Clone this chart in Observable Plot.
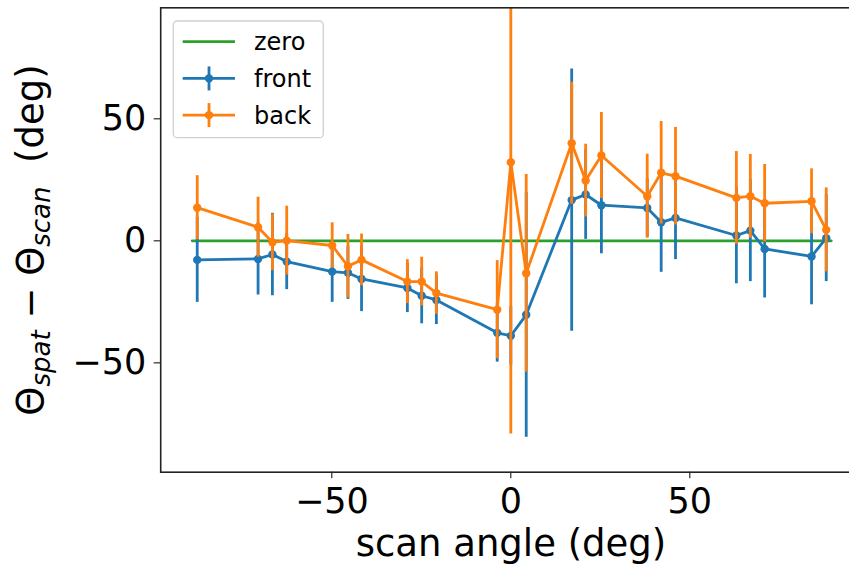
<!DOCTYPE html>
<html>
<head>
<meta charset="utf-8">
<script src="https://cdn.jsdelivr.net/npm/d3@7"></script>
<script src="https://cdn.jsdelivr.net/npm/@observablehq/plot@0.6"></script>
<style>
  html, body { margin: 0; padding: 0; background: white; overflow: hidden; }
  #chart { width: 849px; height: 570px; overflow: hidden; }
  #chart svg { max-width: none !important; width: 870px !important; height: 570px !important; display: block; }
</style>
</head>
<body>
<div id="chart"></div>
<script>
// scan angles (deg)
const angles = [-87.6, -70.6, -66.6, -62.6, -49.9, -45.5, -41.7, -28.9, -24.9, -20.8, -3.8, 0.0, 4.3, 17.0, 20.9, 25.3, 38.1, 42.0, 46.0, 63.0, 66.9, 70.9, 84.0, 88.1];
// front series: value and error
const front    = [-7.8, -7.4, -5.6, -8.5, -12.6, -13.1, -15.6, -19.3, -22.5, -24.2, -37.7, -38.9, -30.3, 16.7, 19.0, 14.6, 13.5, 7.6, 9.4, 2.2, 4.2, -3.3, -6.4, 1.1];
const frontErr = [17.4, 14.8, 16.9, 11.5, 12.6, 10.9, 13.4, 10.1, 11.5, 10.1, 12.0, 12.0, 50.2, 53.7, 18.4, 19.9, 12.0, 20.5, 17.1, 19.8, 20.9, 20.1, 19.8, 17.8];
// back series: value and error
const back     = [13.6, 5.6, -0.6, 0.1, -1.9, -10.4, -7.8, -16.7, -16.7, -21.4, -28.2, 32.2, -13.3, 40.0, 24.7, 35.0, 18.3, 27.9, 26.5, 17.6, 18.3, 15.4, 16.2, 4.5];
const backErr  = [13.1, 12.3, 11.6, 14.1, 9.3, 13.0, 10.6, 9.0, 10.0, 8.7, 20.1, 111.3, 40.5, 25.0, 14.9, 17.6, 17.2, 21.0, 20.0, 19.0, 17.1, 15.9, 13.3, 17.2];
// zero reference line
const zeroX = [-89.0, 89.5];
const zeroY = [0, 0];
// ticks
const xTicks = [-50, 0, 50];
const yTicks = [-50, 0, 50];
const seriesNames = ["zero", "front", "back"];

const GREEN = "#2ca02c", BLUE = "#1f77b4", ORANGE = "#ff7f0e";

const rows = angles.map((a, i) => ({angle: a, front: front[i], fe: frontErr[i], back: back[i], be: backErr[i]}));
const zero = zeroX.map((x, i) => ({x, y: zeroY[i]}));

const fmt = d => d < 0 ? "\u2212" + Math.abs(d) : String(d);
const LW = 2.8;
const R = 4.2;

const plot = Plot.plot({
  width: 870,
  height: 570,
  marginLeft: 160.2,
  marginRight: 7.4,
  marginTop: 7.3,
  marginBottom: 98.3,
  style: {fontFamily: "DejaVu Sans", fontSize: "35px", background: "white", color: "black", overflow: "visible"},
  x: {domain: [-97.8, 98.4], ticks: xTicks, tickFormat: fmt, tickSize: 6.5, tickPadding: 9, label: null},
  y: {domain: [-94.8, 95.5], ticks: yTicks, tickFormat: fmt, tickSize: 6.5, tickPadding: 8, label: null, clamp: true},
  marks: [
    Plot.line(zero, {x: "x", y: "y", stroke: GREEN, strokeWidth: LW}),
    Plot.ruleX(rows, {x: "angle", y1: d => d.front - d.fe, y2: d => d.front + d.fe, stroke: BLUE, strokeWidth: LW}),
    Plot.line(rows, {x: "angle", y: "front", stroke: BLUE, strokeWidth: LW}),
    Plot.dot(rows, {x: "angle", y: "front", r: R, fill: BLUE}),
    Plot.ruleX(rows, {x: "angle", y1: d => d.back - d.be, y2: d => d.back + d.be, stroke: ORANGE, strokeWidth: LW}),
    Plot.line(rows, {x: "angle", y: "back", stroke: ORANGE, strokeWidth: LW}),
    Plot.dot(rows, {x: "angle", y: "back", r: R, fill: ORANGE}),
    Plot.frame({stroke: "#222", strokeWidth: 1.6})
  ]
});
plot.style.maxWidth = "none";
document.getElementById("chart").appendChild(plot);

const svg = d3.select(plot);
// axis labels
svg.append("text")
  .attr("x", 511).attr("y", 556)
  .attr("text-anchor", "middle")
  .attr("font-size", 37)
  .attr("fill", "black")
  .text("scan angle (deg)");

const yl = svg.append("text")
  .attr("transform", "translate(43,240) rotate(-90)")
  .attr("text-anchor", "middle")
  .attr("font-size", 37)
  .attr("fill", "black");
yl.append("tspan").text("\u0398");
yl.append("tspan").attr("font-style", "italic").attr("font-size", 26).attr("dy", 7).text("spat");
yl.append("tspan").attr("dy", -7).text(" \u2212 \u0398");
yl.append("tspan").attr("font-style", "italic").attr("font-size", 26).attr("dy", 7).text("scan");
yl.append("tspan").attr("dy", -7).text("  (deg)");

// legend
const lg = svg.append("g").attr("font-size", 24).attr("text-anchor", "start");
lg.append("rect").attr("x", 173.3).attr("y", 21).attr("width", 150).attr("height", 116.7)
  .attr("rx", 4).attr("fill", "white").attr("fill-opacity", 0.8).attr("stroke", "#d0d0d0").attr("stroke-width", 1.3);
const colors = [GREEN, BLUE, ORANGE];
seriesNames.forEach((name, i) => {
  const yy = 41.7 + i * 36.7;
  lg.append("line").attr("x1", 182.7).attr("x2", 235).attr("y1", yy).attr("y2", yy)
    .attr("stroke", colors[i]).attr("stroke-width", LW);
  if (i > 0) {
    lg.append("line").attr("x1", 209).attr("x2", 209).attr("y1", yy - 12).attr("y2", yy + 12)
      .attr("stroke", colors[i]).attr("stroke-width", LW);
    lg.append("circle").attr("cx", 209).attr("cy", yy).attr("r", R).attr("fill", colors[i]);
  }
  lg.append("text").attr("x", 254).attr("y", yy).attr("dy", "0.35em")
    .attr("text-anchor", "start").attr("fill", "black").text(name);
});
</script>
</body>
</html>
